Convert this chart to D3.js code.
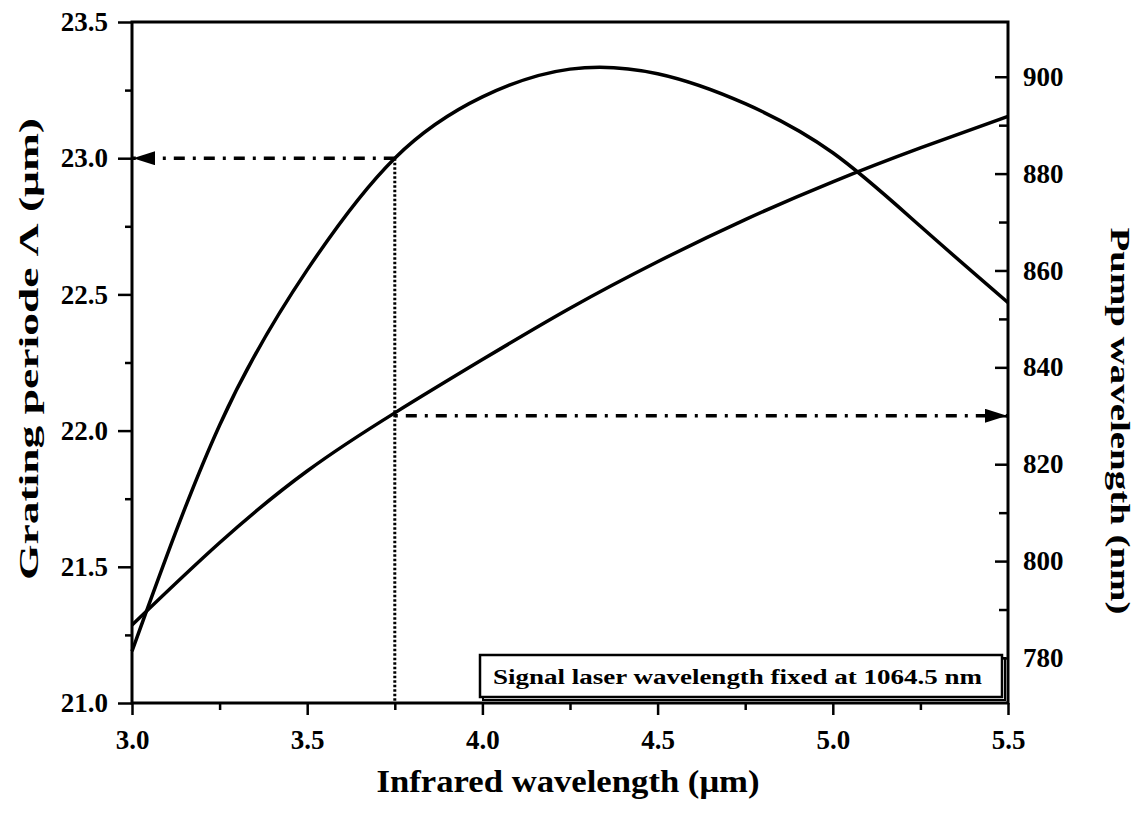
<!DOCTYPE html>
<html>
<head>
<meta charset="utf-8">
<script src="https://cdn.jsdelivr.net/npm/d3@7"></script>
<style>
  body { margin: 0; background: #fff; }
  text { font-family: "Liberation Serif", Tinos, "Times New Roman", Times, serif; font-weight: bold; fill: #000; }
</style>
</head>
<body>
<script>
// data
var wavelength = [3.0, 3.25, 3.5, 3.75, 4.0, 4.25, 4.5, 4.75, 5.0, 5.25, 5.5];
var gratingPeriod = [21.19, 22.02, 22.59, 23.0, 23.225, 23.327, 23.31, 23.20, 23.02, 22.75, 22.47];
var pumpWavelength = [786.8, 803.8, 818.6, 830.6, 841.6, 852.2, 861.8, 870.5, 878.3, 885.3, 891.8];

var xTicks = [3.0, 3.5, 4.0, 4.5, 5.0, 5.5];
var xMinor = [3.25, 3.75, 4.25, 4.75, 5.25];
var leftTicks = [21.0, 21.5, 22.0, 22.5, 23.0, 23.5];
var leftMinor = [21.25, 21.75, 22.25, 22.75, 23.25];
var rightTicks = [780, 800, 820, 840, 860, 880, 900];
var rightMinor = [790, 810, 830, 850, 870, 890];

// chosen point and the signal note
var markX = 3.75, markPeriod = 23.0, markPump = 830;
var note = "Signal laser wavelength fixed at 1064.5 nm";

var width = 1141, height = 815;
var plotLeft = 132, plotRight = 1008, plotTop = 22, plotBottom = 703;
var serif = '"Liberation Serif", Tinos, "Times New Roman", Times, serif';

var svg = d3.select("body").append("svg")
    .attr("width", width)
    .attr("height", height);

var x = d3.scaleLinear().domain([3.0, 5.5]).range([plotLeft, plotRight]);
var yL = d3.scaleLinear().domain([21.0, 23.5]).range([plotBottom, plotTop]);
var yR = d3.scaleLinear().domain([770.7, 911.3]).range([plotBottom, plotTop]);

// arrow heads
svg.append("defs").append("marker")
    .attr("id", "head")
    .attr("viewBox", "0 0 22 14")
    .attr("refX", 22).attr("refY", 7)
    .attr("markerWidth", 22).attr("markerHeight", 14)
    .attr("markerUnits", "userSpaceOnUse")
    .attr("orient", "auto")
  .append("path")
    .attr("d", "M0,0 L22,7 L0,14 Z")
    .attr("fill", "#000");

// axes
function styleAxis(g) {
  g.select(".domain").remove();
  g.attr("font-family", serif);
  g.selectAll(".tick line").attr("stroke", "#000").attr("stroke-width", 2.5);
  g.selectAll(".tick text")
    .style("font-family", serif)
    .style("font-weight", "bold")
    .style("font-size", "27px")
    .attr("fill", "#000");
}

svg.append("g").attr("transform", "translate(" + plotLeft + ",0)")
  .call(d3.axisLeft(yL).tickValues(leftTicks).tickSize(14).tickPadding(10).tickFormat(d3.format(".1f")))
  .call(styleAxis);
svg.append("g").attr("transform", "translate(" + plotLeft + ",0)")
  .call(d3.axisLeft(yL).tickValues(leftMinor).tickSize(7).tickFormat(""))
  .call(styleAxis);

svg.append("g").attr("transform", "translate(0," + plotBottom + ")")
  .call(d3.axisBottom(x).tickValues(xTicks).tickSize(12).tickPadding(15).tickFormat(d3.format(".1f")))
  .call(styleAxis);
svg.append("g").attr("transform", "translate(0," + plotBottom + ")")
  .call(d3.axisBottom(x).tickValues(xMinor).tickSize(7).tickFormat(""))
  .call(styleAxis);

svg.append("g").attr("transform", "translate(" + plotRight + ",0)")
  .call(d3.axisRight(yR).tickValues(rightTicks).tickSizeInner(-13).tickSizeOuter(0).tickPadding(15).tickFormat(d3.format("d")))
  .call(styleAxis);
svg.append("g").attr("transform", "translate(" + plotRight + ",0)")
  .call(d3.axisRight(yR).tickValues(rightMinor).tickSizeInner(-9).tickSizeOuter(0).tickFormat(""))
  .call(styleAxis);

// frame
svg.append("rect")
    .attr("x", plotLeft).attr("y", plotTop)
    .attr("width", plotRight - plotLeft).attr("height", plotBottom - plotTop)
    .attr("fill", "none")
    .attr("stroke", "#000")
    .attr("stroke-width", 3);

// curves
var periodLine = d3.line()
    .x(function(d, i) { return x(wavelength[i]); })
    .y(function(d) { return yL(d); })
    .curve(d3.curveNatural);
var pumpLine = d3.line()
    .x(function(d, i) { return x(wavelength[i]); })
    .y(function(d) { return yR(d); })
    .curve(d3.curveNatural);

svg.append("path")
    .datum(gratingPeriod)
    .attr("d", periodLine)
    .attr("fill", "none").attr("stroke", "#000").attr("stroke-width", 3.5);
svg.append("path")
    .datum(pumpWavelength)
    .attr("d", pumpLine)
    .attr("fill", "none").attr("stroke", "#000").attr("stroke-width", 3.5);

// guide lines
svg.append("line")
    .attr("x1", x(markX)).attr("x2", x(markX))
    .attr("y1", yL(markPeriod)).attr("y2", plotBottom)
    .attr("stroke", "#000").attr("stroke-width", 3)
    .attr("stroke-dasharray", "2.5,2");

svg.append("line")
    .attr("x1", x(markX)).attr("x2", plotLeft + 1)
    .attr("y1", yL(markPeriod)).attr("y2", yL(markPeriod))
    .attr("stroke", "#000").attr("stroke-width", 3.5)
    .attr("stroke-dasharray", "11,8,3,8")
    .attr("marker-end", "url(#head)");

svg.append("line")
    .attr("x1", x(markX)).attr("x2", plotRight - 1)
    .attr("y1", yR(markPump)).attr("y2", yR(markPump))
    .attr("stroke", "#000").attr("stroke-width", 3.5)
    .attr("stroke-dasharray", "3,8,11,8")
    .attr("marker-end", "url(#head)");

// note box
var box = svg.append("g");
box.append("rect")
    .attr("x", 483).attr("y", 658).attr("width", 522).attr("height", 42)
    .attr("fill", "none").attr("stroke", "#000").attr("stroke-width", 2);
box.append("rect")
    .attr("x", 480).attr("y", 655).attr("width", 522).attr("height", 42)
    .attr("fill", "#fff").attr("stroke", "#000").attr("stroke-width", 2.5);
box.append("text")
    .attr("x", 493).attr("y", 684)
    .attr("textLength", 489).attr("lengthAdjust", "spacingAndGlyphs")
    .style("font-size", "20px")
    .text(note);

// axis titles
svg.append("text")
    .attr("x", 568).attr("y", 792)
    .attr("text-anchor", "middle")
    .attr("textLength", 383).attr("lengthAdjust", "spacingAndGlyphs")
    .style("font-size", "31px")
    .text("Infrared wavelength (\u03bcm)");

svg.append("text")
    .attr("transform", "translate(38,349) rotate(-90)")
    .attr("text-anchor", "middle")
    .attr("textLength", 462).attr("lengthAdjust", "spacingAndGlyphs")
    .style("font-size", "28px")
    .text("Grating periode \u039b (\u03bcm)");

svg.append("text")
    .attr("transform", "translate(1111,421) rotate(90)")
    .attr("text-anchor", "middle")
    .attr("textLength", 387).attr("lengthAdjust", "spacingAndGlyphs")
    .style("font-size", "28px")
    .text("Pump wavelength (nm)");
</script>
</body>
</html>
